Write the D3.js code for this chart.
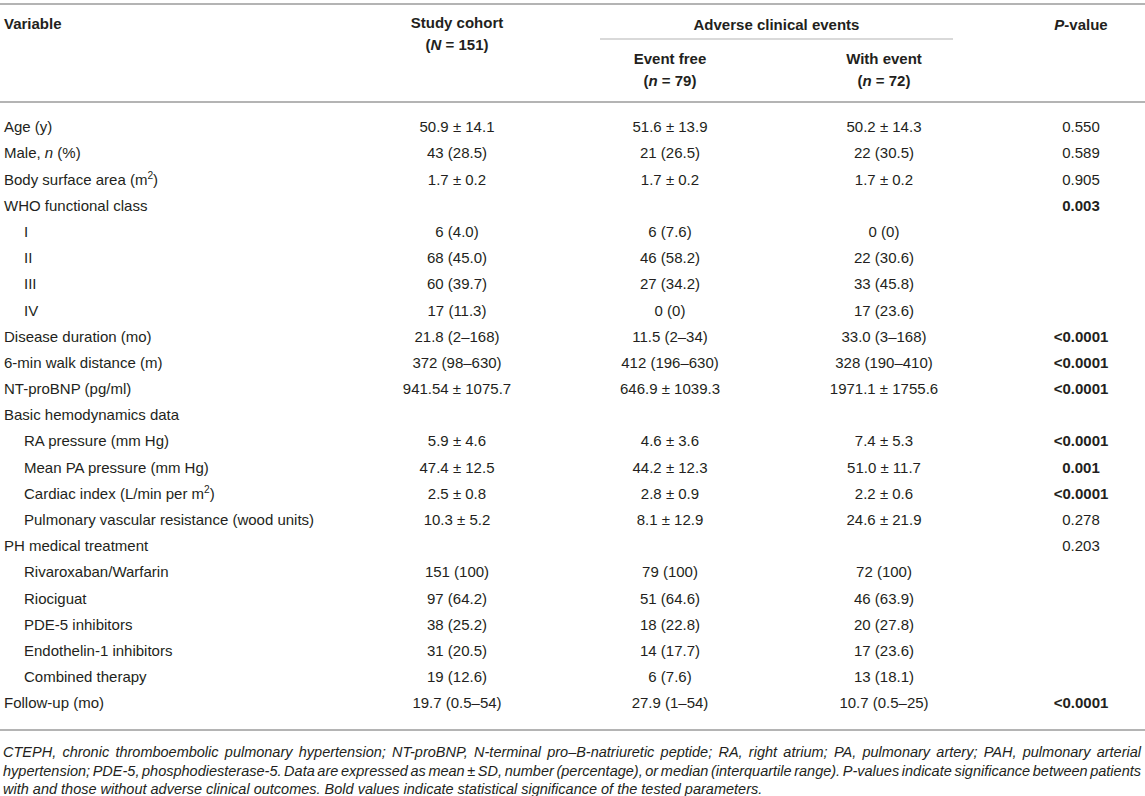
<!DOCTYPE html>
<html>
<head>
<meta charset="utf-8">
<script src="https://cdn.jsdelivr.net/npm/d3@7/dist/d3.min.js"></script>
<style>
  html, body { margin: 0; padding: 0; background: #fff; }
  svg { display: block; }
  text { font-family: "Liberation Sans", Arial, Helvetica, sans-serif; fill: #231f20; }
</style>
</head>
<body>
<svg id="chart" width="1145" height="796"></svg>
<script>
// ---------- DATA ----------
const variables = [
  "Age (y)", "Male, _n_ (%)", "Body surface area (m^2)", "WHO functional class",
  "I", "II", "III", "IV",
  "Disease duration (mo)", "6-min walk distance (m)", "NT-proBNP (pg/ml)",
  "Basic hemodynamics data", "RA pressure (mm Hg)", "Mean PA pressure (mm Hg)",
  "Cardiac index (L/min per m^2)", "Pulmonary vascular resistance (wood units)",
  "PH medical treatment", "Rivaroxaban/Warfarin", "Riociguat", "PDE-5 inhibitors",
  "Endothelin-1 inhibitors", "Combined therapy", "Follow-up (mo)"
];
const indentLevel = [0,0,0,0,1,1,1,1,0,0,0,0,1,1,1,1,0,1,1,1,1,1,0];
const studyCohort = ["50.9 ± 14.1","43 (28.5)","1.7 ± 0.2","","6 (4.0)","68 (45.0)","60 (39.7)","17 (11.3)",
  "21.8 (2–168)","372 (98–630)","941.54 ± 1075.7","","5.9 ± 4.6","47.4 ± 12.5","2.5 ± 0.8","10.3 ± 5.2",
  "","151 (100)","97 (64.2)","38 (25.2)","31 (20.5)","19 (12.6)","19.7 (0.5–54)"];
const eventFree = ["51.6 ± 13.9","21 (26.5)","1.7 ± 0.2","","6 (7.6)","46 (58.2)","27 (34.2)","0 (0)",
  "11.5 (2–34)","412 (196–630)","646.9 ± 1039.3","","4.6 ± 3.6","44.2 ± 12.3","2.8 ± 0.9","8.1 ± 12.9",
  "","79 (100)","51 (64.6)","18 (22.8)","14 (17.7)","6 (7.6)","27.9 (1–54)"];
const withEvent = ["50.2 ± 14.3","22 (30.5)","1.7 ± 0.2","","0 (0)","22 (30.6)","33 (45.8)","17 (23.6)",
  "33.0 (3–168)","328 (190–410)","1971.1 ± 1755.6","","7.4 ± 5.3","51.0 ± 11.7","2.2 ± 0.6","24.6 ± 21.9",
  "","72 (100)","46 (63.9)","20 (27.8)","17 (23.6)","13 (18.1)","10.7 (0.5–25)"];
const pValues = ["0.550","0.589","0.905","0.003","","","","","<0.0001","<0.0001","<0.0001","",
  "<0.0001","0.001","<0.0001","0.278","0.203","","","","","","<0.0001"];
const pBold = [0,0,0,1,0,0,0,0,1,1,1,0,1,1,1,0,0,0,0,0,0,0,1];

const columnKeys = ["study", "free", "event", "p"];
const headerLine1 = ["Study cohort", "Event free", "With event", "_P_-value"];
const headerLine2 = ["(_N_ = 151)", "(_n_ = 79)", "(_n_ = 72)", ""];
const groupHeader = "Adverse clinical events";
const variableHeader = "Variable";
const footnotes = [
  "CTEPH, chronic thromboembolic pulmonary hypertension; NT-proBNP, N-terminal pro–B-natriuretic peptide; RA, right atrium; PA, pulmonary artery; PAH, pulmonary arterial",
  "hypertension; PDE-5, phosphodiesterase-5. Data are expressed as mean ± SD, number (percentage), or median (interquartile range). P-values indicate significance between patients",
  "with and those without adverse clinical outcomes. Bold values indicate statistical significance of the tested parameters."
];

// ---------- LAYOUT ----------
const W = 1145;
const svg = d3.select("#chart");
const FS = 15;
const LINE = "#b4b4b4";

const y = d3.scaleLinear().domain([0, variables.length - 1]).range([127, 703]);
const x = d3.scaleOrdinal().domain(columnKeys).range([457, 670, 884, 1081]);
const xIndent = d3.scaleOrdinal().domain([0, 1]).range([4, 24]);

function rich(sel, str) {
  const parts = str.split(/(_[^_]+_|\^\d)/).filter(s => s.length);
  let shifted = false;
  parts.forEach(p => {
    if (p.startsWith("_") && p.endsWith("_") && p.length > 2) {
      sel.append("tspan").attr("font-style", "italic").text(p.slice(1, -1));
    } else if (p.startsWith("^")) {
      sel.append("tspan").attr("font-size", "0.68em").attr("dy", -5.5).text(p.slice(1));
      shifted = true;
    } else {
      const t = sel.append("tspan").text(p);
      if (shifted) { t.attr("dy", 5.5); shifted = false; }
    }
  });
}

// rules
svg.append("line").attr("x1", 0).attr("x2", W).attr("y1", 4).attr("y2", 4)
  .attr("stroke", LINE).attr("stroke-width", 2);
svg.append("line").attr("x1", 600).attr("x2", 953).attr("y1", 39).attr("y2", 39)
  .attr("stroke", LINE).attr("stroke-width", 1.2);
svg.append("line").attr("x1", 0).attr("x2", W).attr("y1", 102).attr("y2", 102)
  .attr("stroke", LINE).attr("stroke-width", 2);
svg.append("line").attr("x1", 0).attr("x2", W).attr("y1", 730).attr("y2", 730)
  .attr("stroke", LINE).attr("stroke-width", 2);

// headers
const hdr = svg.append("g").attr("font-size", FS).attr("font-weight", "bold");
hdr.append("text").attr("x", xIndent(0)).attr("y", 24).attr("dy", "0.35em").text(variableHeader);
hdr.append("text").attr("x", (600 + 953) / 2).attr("y", 25).attr("dy", "0.35em")
  .attr("text-anchor", "middle").text(groupHeader);
const h1y = [23, 59, 59, 25], h2y = [45, 81, 81, 0];
columnKeys.forEach((k, i) => {
  const t = hdr.append("text").attr("x", x(k)).attr("y", h1y[i]).attr("dy", "0.35em")
    .attr("text-anchor", "middle");
  rich(t, headerLine1[i]);
  if (headerLine2[i]) {
    const t2 = hdr.append("text").attr("x", x(k)).attr("y", h2y[i]).attr("dy", "0.35em")
      .attr("text-anchor", "middle");
    rich(t2, headerLine2[i]);
  }
});

// body
const body = svg.append("g").attr("font-size", FS);
variables.forEach((v, i) => {
  const t = body.append("text").attr("x", xIndent(indentLevel[i])).attr("y", y(i)).attr("dy", "0.35em");
  rich(t, v);
});
const cols = [studyCohort, eventFree, withEvent, pValues];
cols.forEach((arr, c) => {
  body.selectAll(null).data(arr.map((d, i) => ({ d, i })).filter(o => o.d !== ""))
    .join("text")
    .attr("x", x(columnKeys[c]))
    .attr("y", o => y(o.i))
    .attr("dy", "0.35em")
    .attr("text-anchor", "middle")
    .attr("font-weight", o => (c === 3 && pBold[o.i]) ? "bold" : "normal")
    .text(o => o.d);
});

// footnotes (justified)
const fnY = d3.scaleLinear().domain([0, 2]).range([752, 789]);
const fnLeft = 3, fnRight = 1141;
const fn = svg.append("g").attr("font-size", 14.5).attr("font-style", "italic");
footnotes.forEach((line, i) => {
  const t = fn.append("text").attr("x", fnLeft).attr("y", fnY(i)).attr("dy", "0.35em");
  if (i === footnotes.length - 1) { t.text(line); return; }
  const words = line.split(" ");
  const widths = words.map(w => {
    const tmp = fn.append("text").text(w);
    const wd = tmp.node().getComputedTextLength();
    tmp.remove();
    return wd;
  });
  const total = d3.sum(widths);
  let gap = (fnRight - fnLeft - total) / (words.length - 1);
  let scale = 1;
  if (gap < 2.5) { gap = 2.5; scale = (fnRight - fnLeft - gap * (words.length - 1)) / total; }
  let cx = fnLeft;
  words.forEach((w, j) => {
    const ts = t.append("tspan").attr("x", cx).text(w);
    if (scale < 1) ts.attr("textLength", widths[j] * scale).attr("lengthAdjust", "spacingAndGlyphs");
    cx += widths[j] * scale + gap;
  });
});
</script>
</body>
</html>
